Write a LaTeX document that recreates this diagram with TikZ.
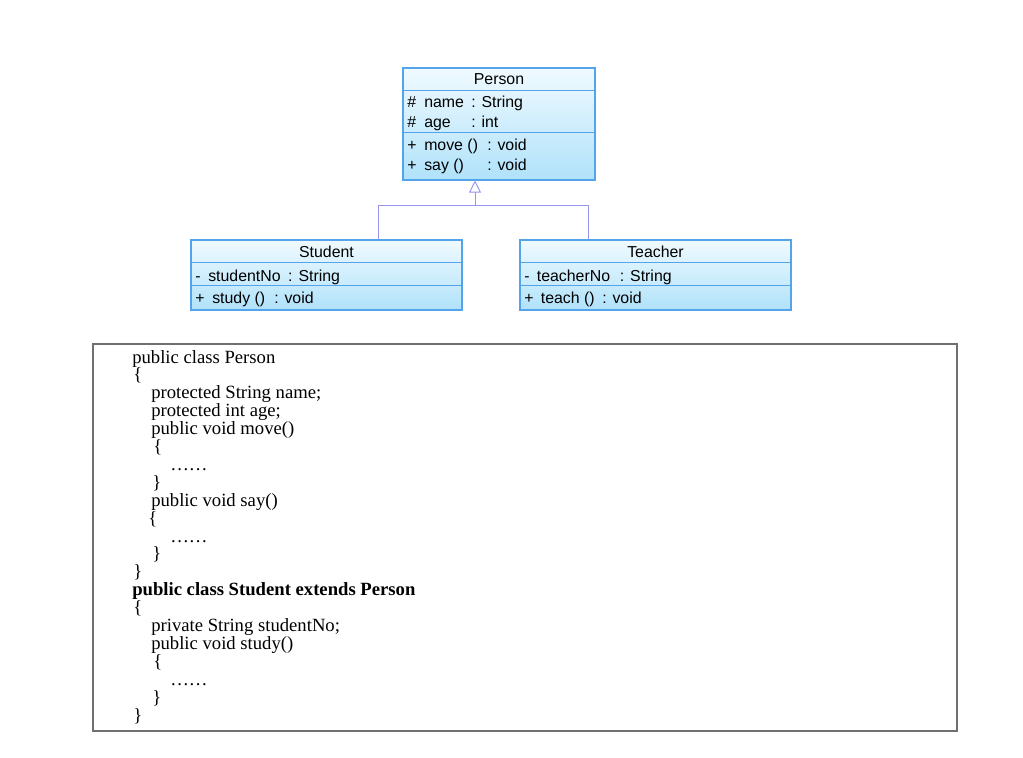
\documentclass[tikz,border=0pt]{standalone}
\usepackage{fontspec}
\setmainfont{Liberation Serif}
\setsansfont{Liberation Sans}
\usepackage{tikz}
\usetikzlibrary{calc,arrows.meta}

\definecolor{umlborder}{RGB}{84,164,236}
\definecolor{umltop}{RGB}{240,250,255}
\definecolor{umlbottom}{RGB}{176,226,250}
\definecolor{umlline}{RGB}{150,150,240}
\definecolor{codeframe}{RGB}{112,112,112}

\tikzset{
  classbox/.style={draw=umlborder, line width=0.8pt, top color=umltop, bottom color=umlbottom, inner sep=0pt},
  divider/.style={draw=umlborder, line width=0.8pt},
  umltitle/.style={anchor=base, inner sep=0pt, font=\sffamily\fontsize{11.9}{13}\selectfont},
  member/.style={anchor=base west, inner sep=0pt, font=\sffamily\fontsize{11.9}{13}\selectfont},
  genline/.style={draw=umlline, line width=0.75pt},
  codebox/.style={draw=codeframe, line width=1.3pt, inner sep=0pt},
  codeline/.style={anchor=base west, inner sep=0pt, font=\fontsize{14}{13.5}\selectfont},
}

\begin{document}
\begin{tikzpicture}[x=0.75pt,y=0.75pt,yscale=-1,xscale=1]
\useasboundingbox (0,0) rectangle (1023,757);

%Shape: Class Person
\node[classbox, minimum width=144pt, minimum height=84pt] (person) at (499,124) {};
\draw[divider] ($(person.north west)+(0,23)$) -- ($(person.north east)+(0,23)$);
\draw[divider] ($(person.north west)+(0,65)$) -- ($(person.north east)+(0,65)$);
\node[umltitle] (persontitle) at (499,84) {Person};
\node[member] (pname) at (407,107) {\makebox[12.75pt][l]{\#}\makebox[35.25pt][l]{name}: String};
\node[member] (page) at (407,127) {\makebox[12.75pt][l]{\#}\makebox[35.25pt][l]{age}: int};
\node[member] (pmove) at (407,150) {\makebox[12.75pt][l]{+}\makebox[47.25pt][l]{move ()}: void};
\node[member] (psay) at (407,170) {\makebox[12.75pt][l]{+}\makebox[47.25pt][l]{say ()}: void};

%Shape: Class Student
\node[classbox, minimum width=203.25pt, minimum height=52.5pt] (student) at (326.5,275) {};
\draw[divider] ($(student.north west)+(0,23)$) -- ($(student.north east)+(0,23)$);
\draw[divider] ($(student.north west)+(0,46)$) -- ($(student.north east)+(0,46)$);
\node[umltitle] (studenttitle) at (326.5,257) {Student};
\node[member] (sno) at (195,281) {\makebox[9.75pt][l]{-}\makebox[60pt][l]{studentNo}: String};
\node[member] (sstudy) at (195,303) {\makebox[12.75pt][l]{+}\makebox[46.5pt][l]{study ()}: void};

%Shape: Class Teacher
\node[classbox, minimum width=203.25pt, minimum height=52.5pt] (teacher) at (655.5,275) {};
\draw[divider] ($(teacher.north west)+(0,23)$) -- ($(teacher.north east)+(0,23)$);
\draw[divider] ($(teacher.north west)+(0,46)$) -- ($(teacher.north east)+(0,46)$);
\node[umltitle] (teachertitle) at (655.5,257) {Teacher};
\node[member] (tno) at (524,281) {\makebox[9.5pt][l]{-}\makebox[62.25pt][l]{teacherNo}: String};
\node[member] (tteach) at (524,303) {\makebox[12.5pt][l]{+}\makebox[46pt][l]{teach ()}: void};

%Generalization
\coordinate (bus) at (475,205);
\coordinate (sbus) at (378,205);
\coordinate (tbus) at (588,205);
\draw[genline] (sbus |- student.north) -- (sbus) -- (tbus) -- (tbus |- teacher.north);
\draw[genline, -{Triangle[open, length=9pt, width=9pt]}] (bus) -- (bus |- person.south);

%Shape: Code frame
\node[codebox, minimum width=648pt, minimum height=290.25pt] (code) at (525,537.5) {};
\foreach \x/\t [count=\i] in {
  132/public class Person, 133/\{, 151/protected String name;, 151/protected int age;,
  151/public void move(), 153/\{, 170/……, 152/\}, 151/public void say(), 148/\{,
  170/……, 152/\}, 133/\}, 132/{\bfseries public class Student extends Person}, 133/\{,
  151/private String studentNo;, 151/public void study(), 153/\{, 170/……, 152/\}, 133/\}}
  \node[codeline] (line\i) at (\x,{363+17.9*(\i-1)}) {\t};

\end{tikzpicture}
\end{document}
